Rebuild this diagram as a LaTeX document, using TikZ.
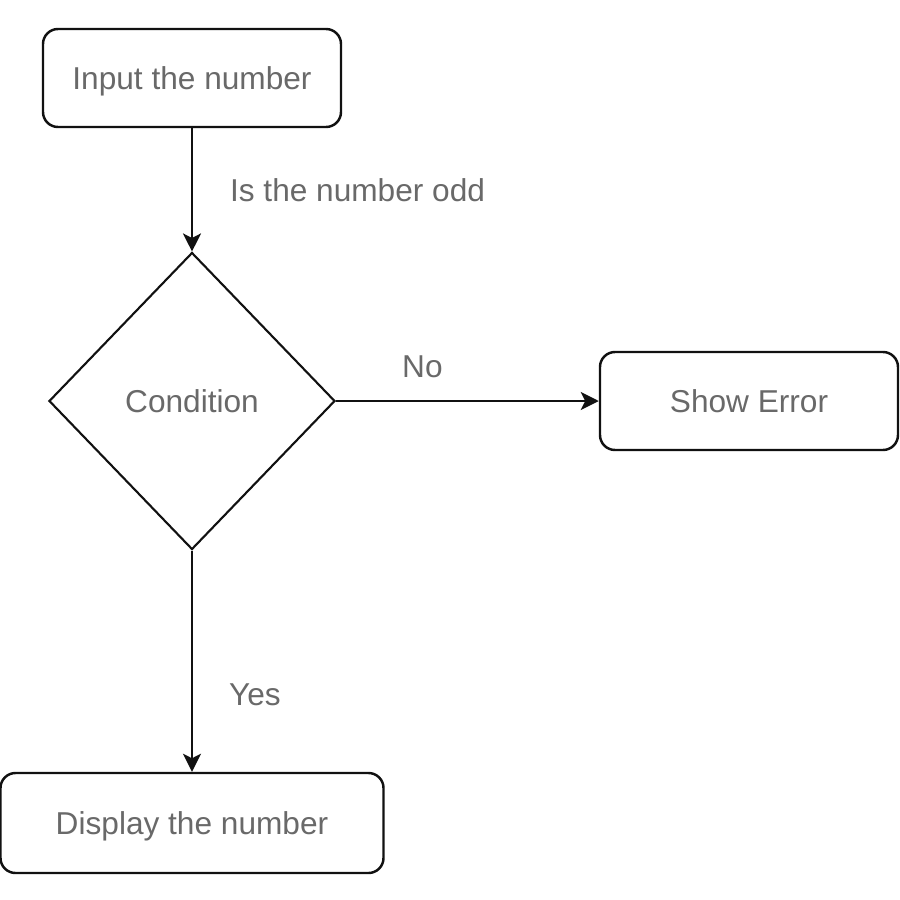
\documentclass[tikz,border=0pt]{standalone}
\usepackage{fontspec}
\setmainfont{Liberation Sans}
\usetikzlibrary{shapes.geometric, arrows.meta, positioning}
\definecolor{textgray}{HTML}{696969}
\definecolor{linegray}{HTML}{111111}
\tikzstyle{process} = [rectangle, rounded corners=0.3cm, minimum width=5.96cm, minimum height=1.96cm, text centered, text depth=0pt, draw=linegray, line width=1.4pt, text=textgray]
\tikzstyle{decision} = [diamond, aspect=1, minimum width=5.72cm, minimum height=5.94cm, inner sep=0pt, text centered, text depth=0pt, draw=linegray, line width=1.2pt, text=textgray]
\tikzstyle{arrow} = [line width=1.4pt, draw=linegray, -{Stealth[length=0.36cm, width=0.36cm, inset=0.09cm]}]
\tikzstyle{edgetext} = [text=textgray, text depth=0pt]

\begin{document}
\begin{tikzpicture}[node distance=6.46cm, font=\fontsize{18}{22}\selectfont]
\useasboundingbox (0,0) rectangle (18,-18);

\node (input) [process] at (3.84,-1.56) {Input the number};
\node (cond) [decision, below of=input] {Condition};
\node (error) [process, right of=cond, node distance=11.14cm] {Show Error};
\node (display) [process, below of=cond, node distance=8.44cm, minimum width=7.66cm, minimum height=2cm] {Display the number};

\draw [arrow] (input) -- node[edgetext, anchor=west, xshift=0.62cm] {Is the number odd} (cond);
\draw [arrow] (cond) -- node[edgetext, xshift=-0.9cm, yshift=0.68cm] {No} (error);
\draw [arrow] (cond) -- node[edgetext, anchor=west, xshift=0.6cm, yshift=-0.66cm] {Yes} (display);

\end{tikzpicture}
\end{document}
